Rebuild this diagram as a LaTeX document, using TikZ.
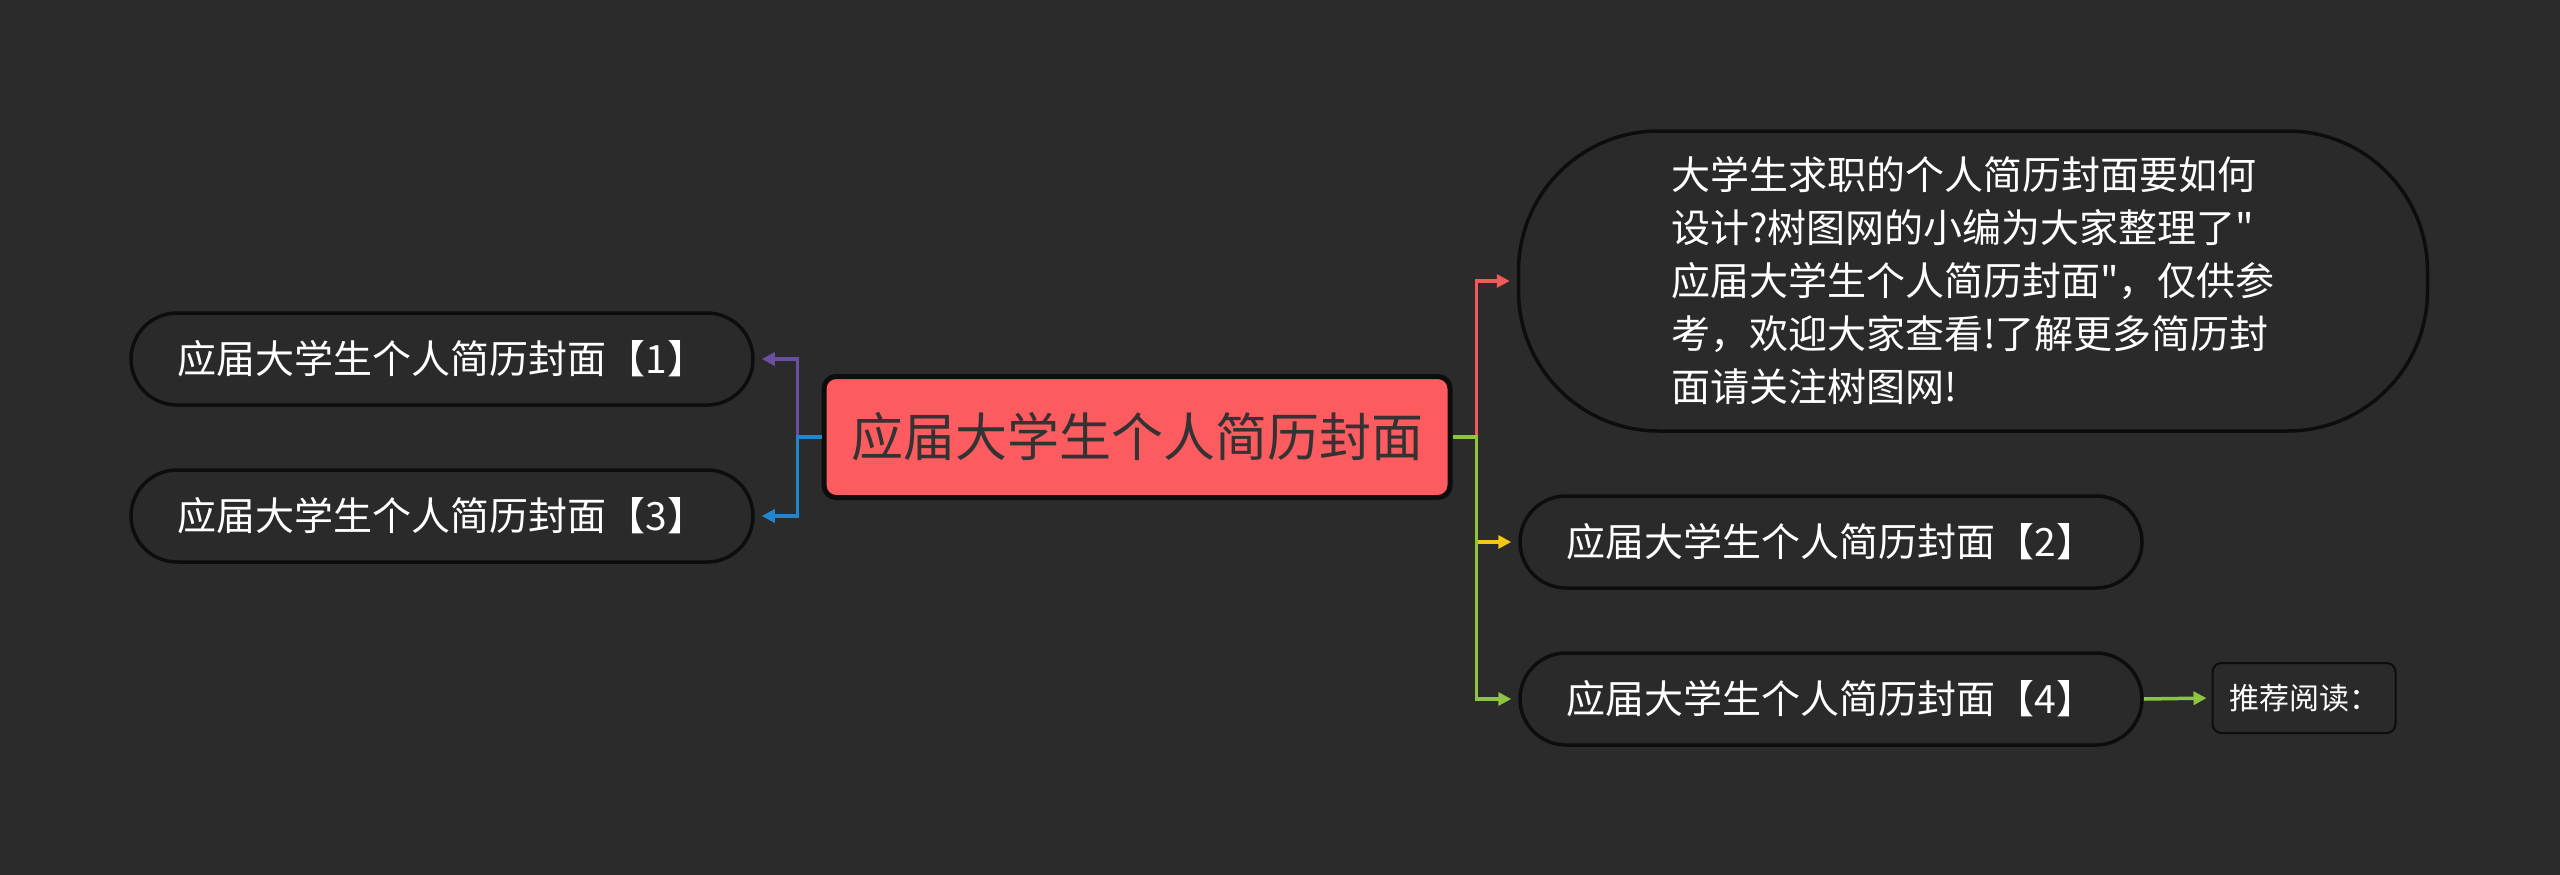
\documentclass[tikz,border=0pt]{standalone}
\usepackage{fontspec}
\newfontfamily\cjk{Noto Sans CJK SC}
\usetikzlibrary{arrows.meta}
\definecolor{bg}{HTML}{2B2B2B}
\definecolor{nodefill}{HTML}{2A2A2A}
\definecolor{rootfill}{HTML}{FC5B5F}
\definecolor{roottext}{HTML}{333333}
\definecolor{cpurple}{HTML}{6A4FA0}
\definecolor{cblue}{HTML}{2185D0}
\definecolor{cred}{HTML}{F05A5A}
\definecolor{cyellow}{HTML}{F5C518}
\definecolor{cgreen}{HTML}{8CC63F}
\begin{document}
\begin{tikzpicture}[x=1pt,y=-1pt,
  child/.style={draw=black!95, line width=3.5pt, fill=nodefill, rounded corners=46pt,
    minimum width=622pt, minimum height=92pt, inner sep=0pt, text=white,
    font=\cjk\fontsize{39}{48}\selectfont},
  bignode/.style={draw=black!95, line width=3.5pt, fill=nodefill, rounded corners=140pt,
    minimum width=909pt, minimum height=300pt, inner sep=0pt, text=white,
    align=left, font=\cjk\fontsize{39}{53}\selectfont},
  rootnode/.style={draw=black!95, line width=5pt, fill=rootfill, rounded corners=12pt,
    minimum width=626pt, minimum height=121pt, inner sep=0pt, text=roottext,
    font=\cjk\fontsize{52}{60}\selectfont},
  smallnode/.style={draw=black!95, line width=2pt, fill=nodefill, rounded corners=9pt,
    minimum width=183pt, minimum height=70pt, inner sep=0pt, text=white,
    font=\cjk\fontsize{30}{36}\selectfont},
  conn/.style={line width=3.5pt, -{Triangle[length=13pt,width=13pt]}}
]
\fill[bg] (0,0) rectangle (2560,875);
\useasboundingbox (0,0) rectangle (2560,875);

\node[rootnode] (c) at (1137,437) {应届大学生个人简历封面};
\node[child] (l1) at (442,359) {应届大学生个人简历封面【1】};
\node[child] (l3) at (442,516) {应届大学生个人简历封面【3】};
\node[bignode] (r0) at (1973,281) {大学生求职的个人简历封面要如何\\设计?树图网的小编为大家整理了"\\应届大学生个人简历封面"，仅供参\\考，欢迎大家查看!了解更多简历封\\面请关注树图网!};
\node[child] (r2) at (1831,542) {应届大学生个人简历封面【2】};
\node[child] (r4) at (1831,699) {应届大学生个人简历封面【4】};
\node[smallnode] (rec) at (2304,698) {推荐阅读：};

\coordinate (jl) at ([xshift=-24pt]c.west);
\coordinate (jr) at ([xshift=24pt]c.east);

\draw[conn, cpurple, shorten >=7pt] (c.west) -- (jl) |- (l1.east);
\draw[conn, cblue, shorten >=7pt] (c.west) -- (jl) |- (l3.east);
\draw[conn, cred, shorten >=7pt] (c.east) -- (jr) |- (r0.west);
\draw[conn, cyellow, shorten >=7pt] (jr |- r2.west) -- (r2.west);
\draw[conn, cgreen, shorten >=7pt] (c.east) -- (jr) |- (r4.west);
\draw[conn, cgreen, shorten >=5pt] (r4.east) -- (rec.west);
\end{tikzpicture}
\end{document}
